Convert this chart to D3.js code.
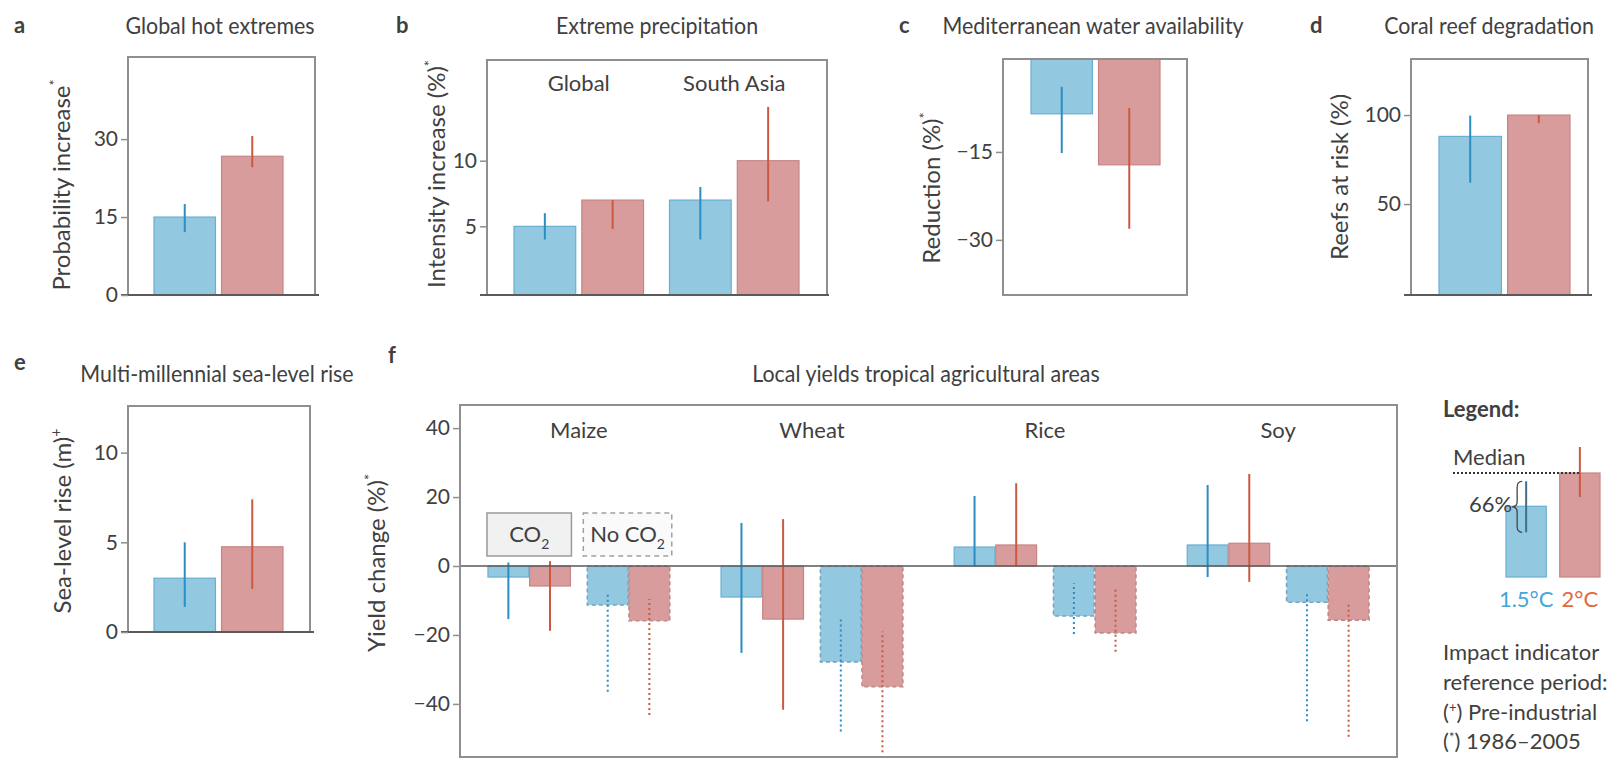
<!DOCTYPE html>
<html><head><meta charset="utf-8">
<script src="https://cdn.jsdelivr.net/npm/d3@7"></script>
<style>
html,body{margin:0;padding:0;background:#fff;}
svg{display:block;}
text{font-family:Lato,"Open Sans",sans-serif;fill:#404040;}
</style></head><body>
<svg id="chart" width="1612" height="759"></svg>
<script>
// ---------- data ----------
const scenarios = ["1.5°C", "2°C"];

// a: global hot extremes, probability increase
const hotMedian = [15.0, 26.7];
const hotLow = [12.1, 24.6];
const hotHigh = [17.5, 30.6];
const hotTicks = [0, 15, 30];

// b: extreme precipitation, intensity increase (%)
const precipRegions = ["Global", "South Asia"];
const precipMedian = [[5.0, 7.0], [7.0, 10.0]];
const precipLow = [[4.0, 4.8], [4.0, 6.9]];
const precipHigh = [[6.0, 7.0], [8.0, 14.1]];
const precipTicks = [5, 10];

// c: Mediterranean water availability, reduction (%)
const waterMedian = [-8.5, -17.2];
const waterLow = [-15.2, -28.1];
const waterHigh = [-3.9, -7.5];
const waterTicks = [-15, -30];

// d: coral reefs at risk (%)
const reefMedian = [88, 100];
const reefLow = [62, 95.5];
const reefHigh = [99.7, 100];
const reefTicks = [50, 100];

// e: multi-millennial sea-level rise (m)
const seaMedian = [3.0, 4.75];
const seaLow = [1.4, 2.4];
const seaHigh = [5.0, 7.4];
const seaTicks = [0, 5, 10];

// f: local yields in tropical agricultural areas (%)
const crops = ["Maize", "Wheat", "Rice", "Soy"];
const co2Cases = ["CO2", "No CO2"];
const yieldCO2Median = [[-3.2, -5.8], [-9.0, -15.4], [5.5, 6.1], [6.1, 6.6]];
const yieldCO2Low = [[-15.4, -18.8], [-25.2, -41.7], [0, 0], [-3.2, -4.6]];
const yieldCO2High = [[1.0, 1.4], [12.5, 13.6], [20.3, 24.0], [23.5, 26.7]];
const yieldNoCO2Median = [[-11.3, -15.9], [-27.8, -35.0], [-14.5, -19.4], [-10.5, -15.7]];
const yieldNoCO2Low = [[-36.5, -43.2], [-48.0, -54.0], [-19.7, -24.9], [-45.0, -49.5]];
const yieldNoCO2High = [[-7.8, -9.6], [-15.0, -19.0], [-5.0, -6.4], [-7.8, -10.4]];
const yieldTicks = [-40, -20, 0, 20, 40];

// legend example bars (relative units)
const legendMedian = [0.68, 1.0];
const legendLow = [0.43, 0.77];
const legendHigh = [0.92, 1.25];

// ---------- styles ----------
const fillColor = {"1.5°C": "#93c8e1", "2°C": "#d99c9c"};
const edgeColor = {"1.5°C": "#6aaed2", "2°C": "#c88484"};
const dashEdge = {"1.5°C": "#7aa3bf", "2°C": "#bf8a8a"};
const errColor = {"1.5°C": "#2b8dc4", "2°C": "#c95a3e"};
const labelColor = {"1.5°C": "#45a6d8", "2°C": "#e06a3c"};
const frameColor = "#8f8f8f";
const axisColor = "#5a5a5a";
const FONT = "Lato, 'Open Sans', sans-serif";

const svg = d3.select("#chart");

function plain(g, x, y, s, size, opts = {}) {
  const t = g.append("text").attr("x", x).attr("y", y)
    .attr("font-size", size)
    .attr("text-anchor", opts.anchor || "middle")
    .text(s);
  if (opts.weight) t.attr("font-weight", opts.weight);
  if (opts.fill) t.style("fill", opts.fill);
  return t;
}
// narrow the set width of a text element by a factor
function condense(t, f) {
  const L = t.node().getComputedTextLength();
  t.attr("textLength", L * f).attr("lengthAdjust", "spacingAndGlyphs");
  return t;
}
// y-axis label rotated, with a superscript mark
function yLabel(g, cx, cy, s, sup, size) {
  const t = g.append("text")
    .attr("transform", `translate(${cx},${cy}) rotate(-90)`)
    .attr("text-anchor", "middle").attr("dy", "0.35em")
    .attr("font-size", size);
  t.append("tspan").text(s);
  if (sup) t.append("tspan").attr("font-size", size * 0.6).attr("dy", -size * 0.45).text(sup);
  return t;
}
function styleAxis(ax) {
  ax.select(".domain").remove();
  ax.selectAll(".tick line").attr("stroke", frameColor).attr("stroke-width", 1.5);
  ax.selectAll(".tick text").attr("font-size", 21).attr("font-family", FONT).style("fill", "#404040");
}
function title(g, x, y, s) { return condense(plain(g, x, y, s, 23), 0.93); }

// ---------- simple two-bar panels ----------
function simplePanel(o) {
  const g = svg.append("g");
  const y = d3.scaleLinear().domain(o.domain).range([o.y1, o.y0]);
  const x = d3.scaleBand().domain(scenarios).range(o.barRange).paddingInner(0.09);
  const base = o.fromTop ? o.domain[1] : o.domain[0];

  g.selectAll("rect.bar").data(scenarios).join("rect")
    .attr("x", d => x(d)).attr("width", x.bandwidth())
    .attr("y", (d, i) => Math.min(y(o.med[i]), y(base)))
    .attr("height", (d, i) => Math.abs(y(o.med[i]) - y(base)))
    .attr("fill", d => fillColor[d]).attr("stroke", d => edgeColor[d]).attr("stroke-width", 1.2);

  g.selectAll("line.err").data(scenarios).join("line")
    .attr("x1", d => x(d) + x.bandwidth() / 2).attr("x2", d => x(d) + x.bandwidth() / 2)
    .attr("y1", (d, i) => y(o.lo[i])).attr("y2", (d, i) => y(o.hi[i]))
    .attr("stroke", d => errColor[d]).attr("stroke-width", 2);

  if (o.fullBox) {
    g.append("rect").attr("x", o.x0).attr("y", o.y0).attr("width", o.x1 - o.x0).attr("height", o.y1 - o.y0)
      .attr("fill", "none").attr("stroke", frameColor).attr("stroke-width", 2);
  } else {
    g.append("path").attr("d", `M${o.x0},${o.y1}V${o.y0}H${o.x1}V${o.y1}`)
      .attr("fill", "none").attr("stroke", frameColor).attr("stroke-width", 2);
    g.append("line").attr("x1", o.x0 - 7).attr("x2", o.x1 + 4).attr("y1", o.y1).attr("y2", o.y1)
      .attr("stroke", axisColor).attr("stroke-width", 2);
  }
  const ax = g.append("g").attr("transform", `translate(${o.x0},0)`)
    .call(d3.axisLeft(y).tickValues(o.ticks).tickSize(7).tickPadding(3).tickSizeOuter(0));
  styleAxis(ax);

  title(g, o.titleX, o.titleY, o.title);
  plain(g, o.letterX, o.letterY, o.letter, 22, {weight: "bold", anchor: "start"});
  yLabel(g, o.labelX, o.labelY, o.label, o.sup, 24);
  return {g, x, y};
}

simplePanel({x0: 128, x1: 315, y0: 57, y1: 295, domain: [0, 45.8], ticks: hotTicks,
  barRange: [154, 283], med: hotMedian, lo: hotLow, hi: hotHigh,
  title: "Global hot extremes", titleX: 220, titleY: 34, letter: "a", letterX: 14, letterY: 33,
  label: "Probability increase", sup: "*", labelX: 62, labelY: 185});

simplePanel({x0: 1003, x1: 1187, y0: 59, y1: 295, domain: [-39.4, 0.85], ticks: waterTicks, fromTop: true, fullBox: true,
  barRange: [1031, 1160], med: waterMedian, lo: waterLow, hi: waterHigh,
  title: "Mediterranean water availability", titleX: 1093, titleY: 34, letter: "c", letterX: 899, letterY: 33,
  label: "Reduction (%)", sup: "*", labelX: 932, labelY: 188});

simplePanel({x0: 1411, x1: 1588, y0: 59, y1: 295, domain: [-1.1, 131.5], ticks: reefTicks,
  barRange: [1439, 1570], med: reefMedian, lo: reefLow, hi: reefHigh,
  title: "Coral reef degradation", titleX: 1489, titleY: 34, letter: "d", letterX: 1310, letterY: 33,
  label: "Reefs at risk (%)", sup: null, labelX: 1340, labelY: 177});

simplePanel({x0: 128, x1: 310, y0: 406, y1: 632, domain: [0, 12.6], ticks: seaTicks,
  barRange: [154, 283], med: seaMedian, lo: seaLow, hi: seaHigh,
  title: "Multi-millennial sea-level rise", titleX: 217, titleY: 382, letter: "e", letterX: 14, letterY: 370,
  label: "Sea-level rise (m)", sup: "+", labelX: 63, labelY: 521});

// ---------- b: grouped panel ----------
(function () {
  const g = svg.append("g");
  const x0 = 487, x1 = 827, y0 = 60, y1 = 295;
  const y = d3.scaleLinear().domain([-0.23, 17.67]).range([y1, y0]);
  const xr = d3.scaleBand().domain(precipRegions).range([514, 799]).paddingInner(0.167);
  const xs = d3.scaleBand().domain(scenarios).range([0, xr.bandwidth()]).paddingInner(0.09);
  const recs = [];
  precipRegions.forEach((r, i) => scenarios.forEach((s, j) =>
    recs.push({r, s, med: precipMedian[i][j], lo: precipLow[i][j], hi: precipHigh[i][j]})));
  const base = y.domain()[0];
  g.selectAll("rect.bar").data(recs).join("rect")
    .attr("x", d => xr(d.r) + xs(d.s)).attr("width", xs.bandwidth())
    .attr("y", d => y(d.med)).attr("height", d => y(base) - y(d.med))
    .attr("fill", d => fillColor[d.s]).attr("stroke", d => edgeColor[d.s]).attr("stroke-width", 1.2);
  g.selectAll("line.err").data(recs).join("line")
    .attr("x1", d => xr(d.r) + xs(d.s) + xs.bandwidth() / 2).attr("x2", d => xr(d.r) + xs(d.s) + xs.bandwidth() / 2)
    .attr("y1", d => y(d.lo)).attr("y2", d => y(d.hi))
    .attr("stroke", d => errColor[d.s]).attr("stroke-width", 2);
  g.append("path").attr("d", `M${x0},${y1}V${y0}H${x1}V${y1}`)
    .attr("fill", "none").attr("stroke", frameColor).attr("stroke-width", 2);
  g.append("line").attr("x1", x0 - 7).attr("x2", x1 + 2).attr("y1", y1).attr("y2", y1)
    .attr("stroke", axisColor).attr("stroke-width", 2);
  const ax = g.append("g").attr("transform", `translate(${x0},0)`)
    .call(d3.axisLeft(y).tickValues(precipTicks).tickSize(7).tickPadding(3).tickSizeOuter(0));
  styleAxis(ax);
  precipRegions.forEach(r => plain(g, xr(r) + xr.bandwidth() / 2, 91, r, 22));
  title(g, 657, 34, "Extreme precipitation");
  plain(g, 396, 33, "b", 22, {weight: "bold", anchor: "start"});
  yLabel(g, 437, 174, "Intensity increase (%)", "*", 24);
})();

// ---------- f: crop yields ----------
(function () {
  const g = svg.append("g");
  const x0 = 460, x1 = 1397, y0 = 405, y1 = 757;
  const y = d3.scaleLinear().domain([-55.4, 46.7]).range([y1, y0]);
  const xc = d3.scaleBand().domain(crops).range([x0, x1]).paddingInner(0.22).paddingOuter(0.12);
  const xk = d3.scaleBand().domain(co2Cases).range([0, xc.bandwidth()]).paddingInner(0.17);
  const xs = d3.scaleBand().domain(scenarios).range([0, xk.bandwidth()]).paddingInner(0.02);

  const recs = [];
  crops.forEach((c, i) => scenarios.forEach((s, j) => {
    recs.push({c, k: "CO2", s, med: yieldCO2Median[i][j], lo: yieldCO2Low[i][j], hi: yieldCO2High[i][j]});
    recs.push({c, k: "No CO2", s, med: yieldNoCO2Median[i][j], lo: yieldNoCO2Low[i][j], hi: yieldNoCO2High[i][j]});
  }));
  const bx = d => xc(d.c) + xk(d.k) + xs(d.s);

  g.selectAll("rect.bar").data(recs).join("rect")
    .attr("x", bx).attr("width", xs.bandwidth())
    .attr("y", d => Math.min(y(d.med), y(0))).attr("height", d => Math.abs(y(d.med) - y(0)))
    .attr("fill", d => fillColor[d.s])
    .attr("stroke", d => d.k === "CO2" ? edgeColor[d.s] : dashEdge[d.s])
    .attr("stroke-width", d => d.k === "CO2" ? 1.2 : 1.6)
    .attr("stroke-dasharray", d => d.k === "CO2" ? null : "4,3");

  g.selectAll("line.err").data(recs).join("line")
    .attr("x1", d => bx(d) + xs.bandwidth() / 2).attr("x2", d => bx(d) + xs.bandwidth() / 2)
    .attr("y1", d => y(d.lo)).attr("y2", d => y(d.hi))
    .attr("stroke", d => errColor[d.s]).attr("stroke-width", 2)
    .attr("stroke-dasharray", d => d.k === "CO2" ? null : "2,3");

  // zero line
  g.append("line").attr("x1", x0).attr("x2", x1).attr("y1", y(0)).attr("y2", y(0))
    .attr("stroke", axisColor).attr("stroke-width", 1.5);
  g.append("rect").attr("x", x0).attr("y", y0).attr("width", x1 - x0).attr("height", y1 - y0)
    .attr("fill", "none").attr("stroke", frameColor).attr("stroke-width", 2);
  const ax = g.append("g").attr("transform", `translate(${x0},0)`)
    .call(d3.axisLeft(y).tickValues(yieldTicks).tickSize(7).tickPadding(3).tickSizeOuter(0));
  styleAxis(ax);

  crops.forEach(c => plain(g, xc(c) + xc.bandwidth() / 2, 438, c, 22));

  // CO2 / No CO2 key boxes above the first crop
  const c0 = crops[0];
  const boxTop = y(0) - 53, boxH = 43;
  const bCO2 = xc(c0) + xk("CO2");
  g.append("rect").attr("x", bCO2 - 1).attr("y", boxTop).attr("width", xk.bandwidth() + 2).attr("height", boxH)
    .attr("fill", "#f1f1f1").attr("stroke", "#9a9a9a").attr("stroke-width", 1.5);
  const bNo = xc(c0) + xk("No CO2");
  g.append("rect").attr("x", bNo - 4).attr("y", boxTop).attr("width", xk.bandwidth() + 6).attr("height", boxH)
    .attr("fill", "#fafafa").attr("stroke", "#a0a0a0").attr("stroke-width", 1.5).attr("stroke-dasharray", "5,4");
  function co2Text(cx, prefix) {
    const t = g.append("text").attr("x", cx).attr("y", boxTop + 29).attr("text-anchor", "middle").attr("font-size", 22);
    t.append("tspan").text(prefix + "CO");
    t.append("tspan").attr("font-size", 14).attr("dy", 7).text("2");
  }
  co2Text(bCO2 + xk.bandwidth() / 2, "");
  co2Text(bNo - 1 + xk.bandwidth() / 2, "No ");

  title(g, 926, 382, "Local yields tropical agricultural areas");
  plain(g, 388, 363, "f", 22, {weight: "bold", anchor: "start"});
  yLabel(g, 377, 563, "Yield change (%)", "*", 24);
})();

// ---------- legend ----------
(function () {
  const g = svg.append("g");
  plain(g, 1443, 417, "Legend:", 22, {weight: "bold", anchor: "start"});
  const yl = d3.scaleLinear().domain([0, 1]).range([577, 473]);
  const xl = d3.scaleBand().domain(scenarios).range([1506, 1600]).paddingInner(0.25);
  g.selectAll("rect.bar").data(scenarios).join("rect")
    .attr("x", d => xl(d)).attr("width", xl.bandwidth())
    .attr("y", (d, i) => yl(legendMedian[i])).attr("height", (d, i) => yl(0) - yl(legendMedian[i]))
    .attr("fill", d => fillColor[d]).attr("stroke", d => edgeColor[d]).attr("stroke-width", 1.2);
  g.selectAll("line.err").data(scenarios).join("line")
    .attr("x1", d => xl(d) + xl.bandwidth() / 2).attr("x2", d => xl(d) + xl.bandwidth() / 2)
    .attr("y1", (d, i) => yl(legendLow[i])).attr("y2", (d, i) => yl(legendHigh[i]))
    .attr("stroke", (d, i) => i === 0 ? "#3f6f8c" : errColor[d]).attr("stroke-width", 2);
  // median guide
  g.append("line").attr("x1", 1453).attr("x2", xl("2°C") + xl.bandwidth() / 2)
    .attr("y1", yl(legendMedian[1])).attr("y2", yl(legendMedian[1]))
    .attr("stroke", "#333").attr("stroke-width", 2).attr("stroke-dasharray", "2,2");
  plain(g, 1453, 465, "Median", 22, {anchor: "start"});
  // brace for the 66% range
  const bx = xl("1.5°C") + xl.bandwidth() / 2 - 9;
  const bt = yl(legendHigh[0]), bb = yl(legendLow[0]), bm = (bt + bb) / 2;
  g.append("path")
    .attr("d", `M${bx + 5},${bt} Q${bx},${bt} ${bx},${bt + 6} L${bx},${bm - 5} Q${bx},${bm} ${bx - 5},${bm} Q${bx},${bm} ${bx},${bm + 5} L${bx},${bb - 6} Q${bx},${bb} ${bx + 5},${bb}`)
    .attr("fill", "none").attr("stroke", "#444").attr("stroke-width", 1.3);
  plain(g, bx - 5, 512, "66%", 22, {anchor: "end"});
  scenarios.forEach(s => plain(g, xl(s) + xl.bandwidth() / 2, 607, s, 22, {fill: labelColor[s]}));

  plain(g, 1443, 660, "Impact indicator", 22, {anchor: "start"});
  plain(g, 1443, 690, "reference period:", 22, {anchor: "start"});
  const l3 = g.append("text").attr("x", 1443).attr("y", 720).attr("font-size", 22);
  l3.append("tspan").text("(");
  l3.append("tspan").attr("font-size", 13).attr("dy", -8).text("+");
  l3.append("tspan").attr("dy", 8).text(") Pre-industrial");
  const l4 = g.append("text").attr("x", 1443).attr("y", 749).attr("font-size", 22);
  l4.append("tspan").text("(");
  l4.append("tspan").attr("font-size", 13).attr("dy", -7).text("*");
  l4.append("tspan").attr("dy", 7).text(") 1986–2005");
})();
</script>
</body></html>
